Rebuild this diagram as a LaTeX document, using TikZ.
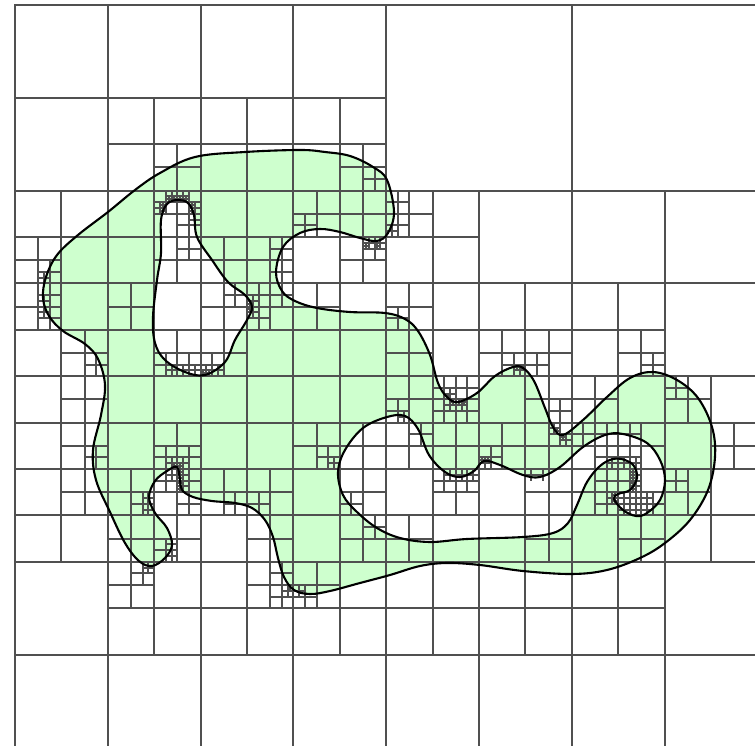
\documentclass[tikz,border=0pt]{standalone}
\definecolor{meshfill}{RGB}{206,255,206}
\definecolor{meshline}{RGB}{80,80,80}
\tikzset{meshedge/.style={draw=meshline,line width=1.6pt},
 border/.style={draw=black,line width=2.1pt,line join=round},
 blob/.style={smooth cycle,tension=0.6}}
\newcommand\crossidx[3]{% size, i, j
 \pgfmathsetmacro\xa{round(15+#2*#1*2.9)}\pgfmathsetmacro\ya{round(5+#3*#1*2.9)}
 \pgfmathsetmacro\xb{round(15+(#2+1)*#1*2.9)}\pgfmathsetmacro\yb{round(5+(#3+1)*#1*2.9)}
 \pgfmathsetmacro\xm{round(15+(#2+.5)*#1*2.9)}\pgfmathsetmacro\ym{round(5+(#3+.5)*#1*2.9)}
 \draw[meshedge] (\xa,\ym)--(\xb,\ym) (\xm,\ya)--(\xm,\yb);}
\newcommand\crossat[3]{% size, px x, px y
 \pgfmathtruncatemacro\ci{floor((#2-15)/(#1*2.9))}
 \pgfmathtruncatemacro\cj{floor((#3-5)/(#1*2.9))}
 \crossidx{#1}{\ci}{\cj}}
\newcommand\outerpts{(300,150)(245,152)(195,157)(160,173)(135,190)(108,212)(78,235)(57,255)(46,277)(43,298)(49,316)(63,331)(85,344)(98,359)(105,385)(101,415)(93,450)(96,480)(110,512)(125,543)(139,561)(152,566)(165,558)(172,545)(167,528)(155,513)(149,497)(155,481)(167,471)(177,467)(180,480)(182,490)(193,497)(212,501)(235,503)(252,508)(265,520)(273,537)(278,558)(284,577)(294,590)(310,594)(330,591)(360,583)(390,575)(420,566)(447,563)(480,565)(523,571)(572,574)(607,570)(640,558)(665,543)(690,520)(708,490)(715,457)(712,427)(698,398)(677,380)(653,372)(630,378)(607,397)(583,420)(563,435)(553,427)(545,408)(534,381)(523,368)(513,367)(495,376)(477,393)(458,402)(447,397)(438,383)(430,355)(418,331)(405,319)(385,313)(350,312)(317,308)(295,301)(282,291)(276,272)(283,247)(300,233)(320,229)(340,232)(360,238)(377,241)(388,233)(394,212)(387,180)(373,167)(350,156)(325,152)}
\newcommand\holeApts{(178,200)(188,203)(194,215)(197,237)(212,260)(228,282)(245,295)(252,307)(247,320)(235,340)(225,362)(205,375)(185,372)(165,360)(155,343)(153,317)(157,280)(161,253)(161,220)(167,204)}
\newcommand\holeBpts{(338,472)(345,450)(363,428)(387,417)(405,416)(418,429)(429,455)(445,472)(460,477)(474,471)(484,461)(500,465)(523,475)(540,477)(560,467)(583,447)(605,435)(623,434)(647,443)(660,460)(665,480)(660,500)(647,513)(636,516)(623,510)(614,499)(618,494)(630,490)(637,478)(634,466)(625,460)(613,459)(600,466)(587,482)(577,505)(568,523)(553,533)(523,537)(467,539)(430,542)(400,538)(377,528)(357,512)(343,495)}
\begin{document}
\begin{tikzpicture}[x=1pt,y=-1pt]
\useasboundingbox (0,0) rectangle (755,746);
\clip (0,0) rectangle (755,746);
\fill[meshfill,even odd rule]
  plot[blob] coordinates {\outerpts}
  plot[blob] coordinates {\holeApts}
  plot[blob] coordinates {\holeBpts};
\draw[meshedge] (15,5) rectangle (758,748);
\crossidx{256}{0}{0}
\foreach \i/\j in {0/0,1/0,0/1,1/1}{\crossidx{128}{\i}{\j}}
\foreach \i/\j in {0/0,1/0,0/1,1/1,2/1,3/1,0/2,1/2,2/2,3/2,0/3,1/3,2/3,3/3}{\crossidx{64}{\i}{\j}}
\foreach \j/\l in {1/{1,2,3},2/{0,1,2,3,4},3/{0,1,2,3,4,5,6},4/{0,1,2,3,4,5,6,7},5/{0,1,2,3,4,5,6,7},6/{1,2,3,4,5,6}}{
 \foreach \i in \l {\crossidx{32}{\i}{\j}}}
\foreach \j/\l in {3/{3,7},4/{3,6,7,8},5/{0,3,4,5,7},6/{0,2,4,5,6,8},7/{1,3,4,8,10,11,13},8/{1,8,9,11,12,14},9/{1,3,6,7,8,9,10,11,12,13,15},10/{1,2,3,4,5,7,9,11,12,13,14},11/{2,3,5,7,8,11,13},12/{2,5,6}}{
 \foreach \i in \l {\crossidx{16}{\i}{\j}}}
\foreach \j/\l in {7/{15},8/{6,7,16},9/{7,12,16},10/{7,11,15},11/{1,11},12/{1,9,10,11},13/{1,10,16},15/{3,6,7,8,21,22,27},16/{18,19,28},17/{16,18,19,23},18/{17,23,24,25,26},19/{3,6,7,13,20,25,26},20/{6,7,18,19,25,26,28},21/{5,7,9,10,14,25,26,27},22/{15},23/{6},24/{5,11},25/{11,12}}{
 \foreach \i in \l {\crossidx{8}{\i}{\j}}}
\foreach \x/\y in {172/197,184/197,161/208,195/208,195/219,44/278,44/301,44/312,
  252/299,252/311,172/371,184/371,195/371,207/371,218/371,
  172/462,184/462,172/474,184/474,184/486,150/498,150/509,
  288/591,300/591,150/567,172/545,172/556,333/463,404/411,
  451/394,451/406,462/406,520/371,
  555/429,567/440,485/463,450/475,462/475,473/475,531/475,543/475,
  369/243,381/243,392/231,
  613/464,624/464,636/464,636/476,636/488,
  613/499,624/499,636/499,648/499,624/511,636/511,648/511}{\crossat{4}{\x}{\y}}
\foreach \x/\y in {170/199,175/199,181/199,187/199,164/205,164/211,193/205,193/211,
  175/465,181/465,181/471,181/477,181/483,181/489,
  204/374,210/374,250/302,250/308,291/588,
  454/401,459/401,465/401,448/397,517/368,523/368,482/460,488/460,564/437,558/432,
  616/496,616/502,635/473,635/479,635/485,635/491,367/246,378/246}{\crossat{2}{\x}{\y}}
\draw[border] plot[blob] coordinates {\outerpts};
\draw[border] plot[blob] coordinates {\holeApts};
\draw[border] plot[blob] coordinates {\holeBpts};
\end{tikzpicture}
\end{document}
